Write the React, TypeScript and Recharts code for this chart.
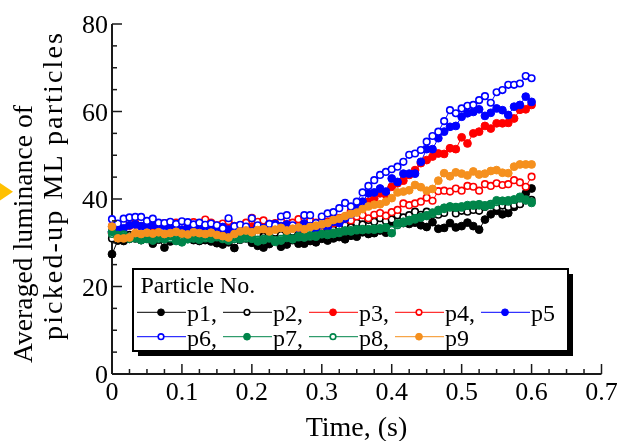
import React from 'react'
import { LineChart, Line, XAxis, YAxis } from 'recharts'

// frames were sampled at 120 fps, 0 to 0.6 s
const FPS = 120
const TIME = Array.from({ length: 73 }, (_, i) => i / FPS)

const P1 = [
  27.4, 30.5, 30.4, 30.9, 31.0, 30.6, 30.9, 29.8, 30.7, 28.9,
  30.3, 30.8, 30.5, 30.9, 30.6, 30.4, 30.6, 30.3, 29.9, 29.6,
  30.1, 28.8, 30.7, 31.0, 30.0, 29.3, 28.9, 29.7, 30.5, 29.1,
  29.6, 30.6, 29.8, 29.8, 30.4, 30.1, 30.9, 30.5, 31.0, 31.3,
  30.8, 31.6, 31.4, 32.4, 32.0, 32.2, 32.8, 32.3, 34.5, 34.2,
  34.5, 34.3, 34.6, 34.0, 33.6, 34.7, 33.2, 33.4, 34.5, 33.5,
  33.8, 34.6, 33.8, 33.0, 35.3, 36.5, 37.3, 36.5, 36.8, 38.2,
  38.9, 41.3, 42.4,
]
const P2 = [
  31.0, 31.4, 31.2, 31.8, 31.5, 31.6, 31.2, 31.9, 31.4, 31.0,
  31.6, 31.3, 31.8, 31.5, 31.1, 31.7, 31.4, 31.2, 31.6, 31.9,
  31.3, 31.0, 31.5, 31.8, 32.1, 31.6, 31.4, 31.9, 32.3, 31.8,
  32.0, 32.5, 31.9, 32.2, 32.7, 32.3, 32.6, 33.5, 33.0, 33.6,
  34.0, 33.5, 34.6, 34.2, 35.2, 34.8, 35.6, 35.0, 35.3, 36.3,
  35.8, 36.3, 37.1, 36.4, 37.1, 36.5, 36.4, 36.8, 38.2, 36.7,
  37.3, 37.1, 37.5, 37.3, 38.2, 38.8, 38.1, 38.5, 38.2, 38.6,
  38.8, 39.7, 39.8,
]
const P3 = [
  32.2, 33.0, 33.6, 33.9, 34.2, 33.8, 34.3, 33.5, 33.9, 34.1,
  33.7, 33.2, 33.8, 34.0, 33.5, 33.7, 33.4, 33.9, 33.6, 33.2,
  34.3, 33.8, 33.5, 34.0, 33.7, 34.3, 33.6, 33.3, 34.0, 34.5,
  33.9, 34.2, 33.6, 34.6, 35.0, 34.2, 34.0, 34.8, 34.5, 35.6,
  36.0, 37.2, 37.5, 38.6, 39.4, 40.1, 41.3, 41.0, 42.8, 43.6,
  44.2, 45.5, 46.6, 48.2, 48.9, 49.7, 50.4, 50.3, 51.6, 51.4,
  54.1, 52.7, 55.0, 55.4, 56.7, 56.1, 57.3, 57.3, 57.4, 58.4,
  60.4, 60.5, 61.5,
]
const P4 = [
  33.8, 33.0, 34.6, 35.0, 34.5, 35.2, 34.3, 34.8, 34.0, 34.5,
  33.8, 34.6, 34.2, 33.9, 34.7, 34.1, 35.3, 34.6, 34.0, 34.4,
  34.9, 33.5, 34.0, 34.6, 35.7, 34.8, 35.1, 34.3, 34.5, 35.0,
  34.2, 34.6, 35.4, 35.7, 35.0, 34.6, 35.0, 34.7, 35.6, 35.0,
  35.4, 35.1, 36.0, 36.3, 35.6, 36.4, 36.8, 36.2, 37.0, 37.5,
  39.0, 38.6, 39.0, 39.4, 40.3, 39.6, 41.8, 41.9, 41.7, 42.4,
  41.9, 43.0, 42.8, 41.9, 43.4, 43.0, 43.6, 43.2, 43.4, 44.3,
  43.8, 42.8, 45.1,
]
const P5 = [
  32.5, 33.5, 33.3, 34.0, 34.2, 33.8, 33.5, 34.1, 33.6, 33.9,
  33.2, 33.7, 33.0, 33.4, 33.8, 33.1, 33.5, 33.9, 33.2, 33.6,
  33.0, 32.8, 33.5, 33.1, 32.6, 33.7, 33.2, 33.9, 34.3, 33.8,
  34.2, 33.5, 33.2, 34.4, 33.8, 33.0, 34.1, 33.6, 34.8, 34.5,
  35.5, 36.5, 37.8, 39.4, 41.3, 41.5, 42.4, 41.7, 44.7, 43.9,
  45.8, 45.8, 45.8, 48.5, 51.4, 51.4, 53.9, 55.4, 56.5, 56.7,
  58.8, 59.6, 59.9, 60.5, 59.0, 59.7, 60.7, 60.3, 59.2, 61.1,
  61.5, 63.4, 62.2,
]
const P6 = [
  35.4, 34.4, 35.5, 35.8, 35.9, 35.9, 35.0, 35.5, 34.6, 34.5,
  34.8, 34.3, 34.9, 34.7, 34.2, 34.6, 34.1, 34.4, 34.0, 33.3,
  35.6, 33.8, 34.1, 33.7, 35.6, 34.0, 33.4, 34.3, 34.0, 36.0,
  36.3, 34.0, 33.4, 36.3, 36.3, 34.5, 36.0, 36.7, 37.0, 37.9,
  39.1, 38.3, 39.4, 41.5, 43.0, 44.3, 45.5, 46.2, 46.8, 47.4,
  48.5, 50.1, 50.4, 51.2, 53.1, 54.4, 55.4, 57.8, 60.3, 59.6,
  60.7, 61.3, 61.5, 62.6, 63.5, 62.0, 64.4, 64.9, 66.1, 66.1,
  66.4, 68.1, 67.6,
]
const P7 = [
  32.5, 31.8, 31.5, 30.9, 31.2, 30.6, 31.0, 30.5, 31.3, 30.8,
  31.5, 30.4, 30.1, 30.8, 31.2, 30.7, 31.4, 30.9, 31.6, 31.1,
  30.5, 31.2, 30.8, 31.4, 30.9, 30.3, 30.6, 31.0, 30.2, 30.5,
  31.1, 30.8, 31.5, 31.2, 31.7, 31.4, 32.0, 31.8, 32.0, 32.5,
  32.8, 32.6, 33.1, 32.9, 33.1, 33.0, 33.3, 33.5, 32.2, 34.4,
  34.8, 35.2, 35.6, 35.9, 36.1, 36.9, 37.5, 38.0, 38.3, 38.0,
  38.3, 38.6, 38.5, 38.8, 38.3, 38.6, 39.7, 39.6, 39.7, 39.9,
  40.5, 39.7, 39.1,
]
const P8 = [
  32.0, 31.5, 31.9, 31.3, 31.0, 31.2, 30.8, 31.1, 30.9, 31.4,
  31.0, 30.8, 30.6, 31.2, 30.9, 31.1, 31.0, 31.3, 31.2, 30.8,
  30.9, 30.8, 31.2, 31.0, 31.2, 30.7, 30.9, 31.3, 30.6, 30.9,
  31.4, 31.0, 31.2, 31.5, 31.4, 31.7, 31.9, 32.1, 32.3, 32.2,
  32.6, 32.9, 32.8, 33.2, 33.0, 33.3, 33.1, 33.4, 33.0, 34.0,
  34.5, 34.9, 35.3, 35.7, 36.3, 36.6, 37.2, 37.7, 38.0, 38.2,
  38.0, 38.4, 38.7, 38.5, 38.6, 38.9, 39.3, 39.5, 39.4, 39.8,
  40.1, 39.9, 39.4,
]
const P9 = [
  33.7, 31.0, 31.0, 31.2, 32.2, 32.0, 32.3, 32.1, 32.4, 32.0,
  32.2, 32.5, 32.1, 31.9, 32.4, 32.2, 32.0, 32.3, 31.8, 31.5,
  31.2, 32.0, 32.6, 32.8, 32.4, 32.9, 33.1, 32.6, 33.0, 33.4,
  32.8, 33.2, 33.5, 33.1, 33.6, 33.9, 34.2, 34.5, 35.2, 35.5,
  36.1, 36.6, 36.9, 37.7, 38.3, 38.7, 38.8, 39.4, 40.2, 41.5,
  41.7, 42.0, 43.2, 42.7, 41.9, 42.3, 44.2, 45.9, 45.2, 46.1,
  45.8, 45.4, 46.3, 45.6, 45.8, 46.4, 46.6, 46.0, 45.9, 47.4,
  47.9, 47.9, 47.9,
]

const X_TICKS = [
  0, 0.025, 0.05, 0.075, 0.1, 0.125, 0.15, 0.175, 0.2, 0.225, 0.25, 0.275, 0.3, 0.325, 0.35,
  0.375, 0.4, 0.425, 0.45, 0.475, 0.5, 0.525, 0.55, 0.575, 0.6, 0.625, 0.65, 0.675, 0.7,
]
const X_LABELS: Record<string, string> = {
  '0': '0', '0.1': '0.1', '0.2': '0.2', '0.3': '0.3', '0.4': '0.4', '0.5': '0.5', '0.6': '0.6', '0.7': '0.7',
}
const Y_TICKS = [0, 5, 10, 15, 20, 25, 30, 35, 40, 45, 50, 55, 60, 65, 70, 75, 80]
const Y_LABELS: Record<string, string> = { '0': '0', '20': '20', '40': '40', '60': '60', '80': '80' }

const SERIES = [
  { key: 'p1', values: P1, color: '#000000', open: false },
  { key: 'p2', values: P2, color: '#000000', open: true },
  { key: 'p3', values: P3, color: '#ff0000', open: false },
  { key: 'p4', values: P4, color: '#ff0000', open: true },
  { key: 'p5', values: P5, color: '#0000ff', open: false },
  { key: 'p6', values: P6, color: '#0000ff', open: true },
  { key: 'p7', values: P7, color: '#00854a', open: false },
  { key: 'p8', values: P8, color: '#00854a', open: true },
  { key: 'p9', values: P9, color: '#f5901e', open: false },
]
// p8 sits underneath p7 in the figure
const DRAW_ORDER = ['p1', 'p2', 'p3', 'p4', 'p5', 'p6', 'p8', 'p7', 'p9']

const data = TIME.map((t, i) => {
  const row: Record<string, number> = { t }
  SERIES.forEach((s) => (row[s.key] = s.values[i]))
  return row
})

const FONT = '"Liberation Serif", "Times New Roman", serif'
const AXIS = '#1a1a1a'
const fmt = (v: number) => String(Math.round(v * 1000) / 1000)

const BottomTick = ({ x, y, payload }: any) => {
  const label = X_LABELS[fmt(payload.value)]
  return (
    <g>
      <line x1={x} x2={x} y1={y} y2={y - (label ? 10 : 5)} stroke={AXIS} strokeWidth={1.5} />
      {label && (
        <text x={x} y={y + 26} textAnchor="middle" fontSize={26} fontFamily={FONT} fill="#000">
          {label}
        </text>
      )}
    </g>
  )
}

const TopTick = ({ x, y, payload }: any) => {
  const major = !!X_LABELS[fmt(payload.value)]
  return <line x1={x} x2={x} y1={y} y2={y + (major ? 10 : 5)} stroke={AXIS} strokeWidth={1.5} />
}

const LeftTick = ({ x, y, payload }: any) => {
  const label = Y_LABELS[fmt(payload.value)]
  return (
    <g>
      <line x1={x} x2={x + (label ? 10 : 5)} y1={y} y2={y} stroke={AXIS} strokeWidth={1.5} />
      {label && (
        <text x={x - 4} y={y + 9} textAnchor="end" fontSize={26} fontFamily={FONT} fill="#000">
          {label}
        </text>
      )}
    </g>
  )
}

const RightTick = ({ x, y, payload }: any) => {
  const major = !!Y_LABELS[fmt(payload.value)]
  return <line x1={x} x2={x - (major ? 10 : 5)} y1={y} y2={y} stroke={AXIS} strokeWidth={1.5} />
}

const makeDot = (color: string, open: boolean, r = 3.9) => (p: any) => {
  if (p.cx == null || p.cy == null) return <g key={p.index} />
  return (
    <circle
      key={p.index}
      cx={p.cx}
      cy={p.cy}
      r={open ? r - 0.6 : r}
      fill={open ? '#fff' : color}
      stroke={color}
      strokeWidth={open ? 1.6 : 1}
    />
  )
}

const LegendBox = () => {
  const rows = [SERIES.slice(0, 5), SERIES.slice(5)]
  return (
    <g>
      <rect x={138} y={274} width={435} height={82} fill="#000" />
      <rect x={133} y={269} width={435} height={82} fill="#fff" stroke="#000" strokeWidth={2} />
      <text x={140.5} y={293} fontSize={24} fontFamily={FONT} fill="#000">
        Particle No.
      </text>
      {rows.map((row, r) =>
        row.map((s, c) => {
          const x0 = 137 + c * 86
          const cy = 312.3 + r * 24.4
          const last = c === row.length - 1
          return (
            <g key={s.key}>
              <line x1={x0} x2={x0 + 49} y1={cy} y2={cy} stroke={s.color} strokeWidth={1} />
              {makeDot(s.color, s.open, 3.4)({ cx: x0 + 24, cy, index: s.key })}
              <text x={x0 + 50} y={cy + 9} fontSize={24} fontFamily={FONT} fill="#000">
                {s.key + (last ? '' : ',')}
              </text>
            </g>
          )
        })
      )}
    </g>
  )
}

export default function App() {
  // fixed at the page origin so chart coordinates equal page pixels
  return (
    <div style={{ position: 'fixed', left: 0, top: 0, width: 623, height: 441 }}>
      <LineChart width={623} height={441} data={data} margin={{ top: 24, right: 21.5, bottom: 27, left: 52 }}>
        <XAxis
          xAxisId="b"
          dataKey="t"
          type="number"
          domain={[0, 0.7]}
          ticks={X_TICKS}
          interval={0}
          height={40}
          tickSize={0}
          tickMargin={0}
          tick={(p: any) => <BottomTick {...p} />}
          axisLine={{ stroke: AXIS, strokeWidth: 2 }}
        />
        <XAxis
          xAxisId="top"
          orientation="top"
          dataKey="t"
          type="number"
          domain={[0, 0.7]}
          ticks={X_TICKS}
          interval={0}
          height={0}
          tickSize={0}
          tickMargin={0}
          tick={(p: any) => <TopTick {...p} />}
          axisLine={{ stroke: AXIS, strokeWidth: 2 }}
        />
        <YAxis
          yAxisId="l"
          type="number"
          domain={[0, 80]}
          ticks={Y_TICKS}
          interval={0}
          width={60}
          tickSize={0}
          tickMargin={0}
          tick={(p: any) => <LeftTick {...p} />}
          axisLine={{ stroke: AXIS, strokeWidth: 2 }}
        />
        <YAxis
          yAxisId="r"
          orientation="right"
          type="number"
          domain={[0, 80]}
          ticks={Y_TICKS}
          interval={0}
          width={0}
          tickSize={0}
          tickMargin={0}
          tick={(p: any) => <RightTick {...p} />}
          axisLine={{ stroke: AXIS, strokeWidth: 2 }}
        />
        {DRAW_ORDER.map((k) => {
          const s = SERIES.find((x) => x.key === k)!
          return (
            <Line
              key={k}
              xAxisId="b"
              yAxisId="l"
              dataKey={k}
              type="linear"
              stroke={s.color}
              strokeWidth={1}
              dot={makeDot(s.color, s.open)}
              activeDot={false}
              isAnimationActive={false}
            />
          )
        })}
      </LineChart>
      <svg width={623} height={441} style={{ position: 'absolute', left: 0, top: 0, pointerEvents: 'none' }}>
        <polygon points="0,183 13,191.7 0,200.5" fill="#ffc000" />
        <text
          transform="translate(32,363) rotate(-90)"
          fontSize={27.5}
          fontFamily={FONT}
          fill="#000"
          textLength={258}
          lengthAdjust="spacing"
        >
          Averaged luminance of
        </text>
        <text
          transform="translate(61.5,340) rotate(-90)"
          fontSize={28}
          fontFamily={FONT}
          fill="#000"
          textLength={307}
          lengthAdjust="spacing"
        >
          picked-up ML particles
        </text>
        <text x={356.5} y={436} textAnchor="middle" fontSize={28} fontFamily={FONT} fill="#000">
          Time, (s)
        </text>
        <LegendBox />
      </svg>
    </div>
  )
}
